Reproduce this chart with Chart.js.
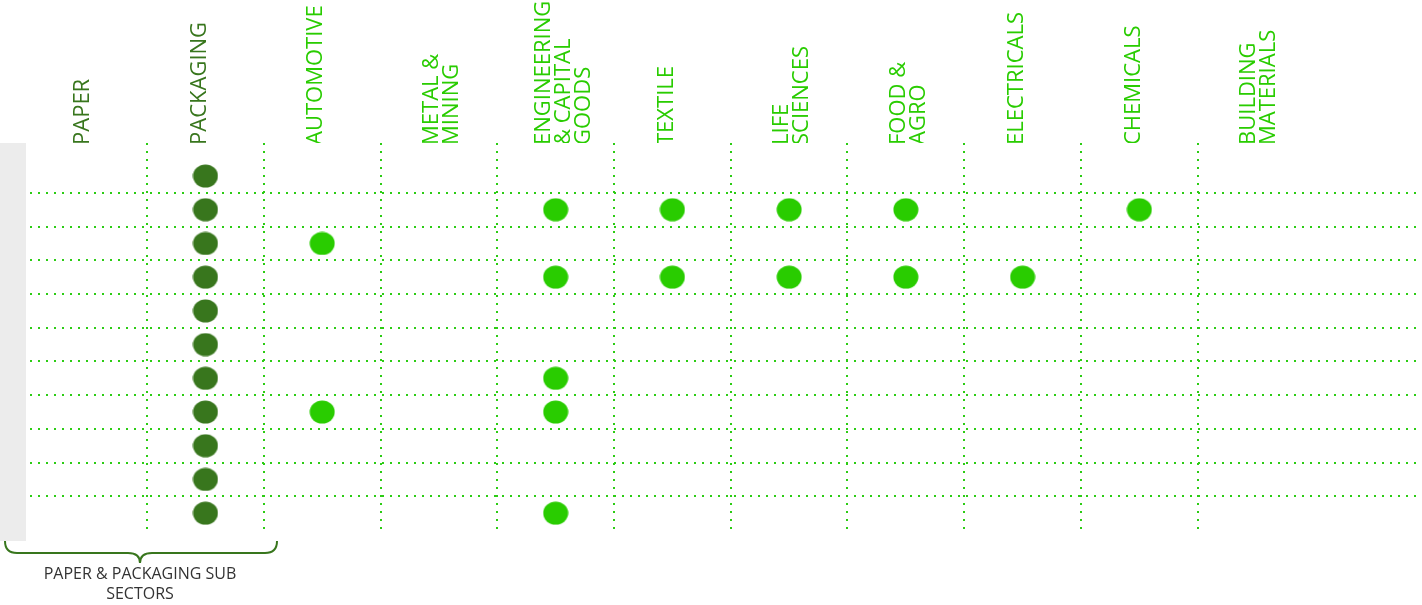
<!DOCTYPE html>
<html>
<head>
<meta charset="utf-8">
<script src="https://cdn.jsdelivr.net/npm/chart.js@4.4.1/dist/chart.umd.min.js"></script>
<style>
	html, body { margin: 0; padding: 0; background: #ffffff; }
	#wrap { position: relative; width: 1422px; height: 605px; overflow: hidden; }
	#side_bar { position: absolute; left: 0; top: 143px; width: 26px; height: 398px; background: #ececec; }
	#chart { position: absolute; left: 0; top: 0; }
	#brace { position: absolute; left: 0; top: 0; }
	#brace_label {
		position: absolute; left: 10px; top: 563px; width: 260px;
		text-align: center; font-family: "Open Sans", sans-serif; font-size: 16px;
		line-height: 20px; color: #333333;
	}
</style>
</head>
<body>
<div id="wrap">
	<div id="side_bar"></div>
	<canvas id="chart" width="1422" height="605"></canvas>
	<svg id="brace" width="1422" height="605">
		<path d="M5,541 Q5,553 17,553 L128,553 Q140,553 140,563 Q140,553 152,553 L265,553 Q277,553 277,541"
			fill="none" stroke="#38761d" stroke-width="2" />
	</svg>
	<div id="brace_label">PAPER &amp; PACKAGING SUB<br>SECTORS</div>
</div>
<script>
// ---- data ----
const sector_labels = [
	["PAPER"],
	["PACKAGING"],
	["AUTOMOTIVE"],
	["METAL &", "MINING"],
	["ENGINEERING", "& CAPITAL", "GOODS"],
	["TEXTILE"],
	["LIFE", "SCIENCES"],
	["FOOD &", "AGRO"],
	["ELECTRICALS"],
	["CHEMICALS"],
	["BUILDING", "MATERIALS"],
];
// rows (0 = top) where each sector has a dot
const paper_rows = [];
const packaging_rows = [0, 1, 2, 3, 4, 5, 6, 7, 8, 9, 10];
const automotive_rows = [2, 7];
const metal_rows = [];
const engineering_rows = [1, 3, 6, 7, 10];
const textile_rows = [1, 3];
const life_sciences_rows = [1, 3];
const food_agro_rows = [1, 3];
const electricals_rows = [3];
const chemicals_rows = [1];
const building_rows = [];
const row_boundaries = [0.5, 1.5, 2.5, 3.5, 4.5, 5.5, 6.5, 7.5, 8.5, 9.5];
const column_boundaries = [0.5, 1.5, 2.5, 3.5, 4.5, 5.5, 6.5, 7.5, 8.5, 9.5];

const dark_green = "#38761d";
const bright_green = "#29cc00";
const grid_green = "#2ccc14";

// chart.js puts stacked rotated lines left of the tick, nudge label ticks back
const label_shift = { 1: 0.12, 2: 0.28, 3: 0.41 };

const all_rows = [
	paper_rows, packaging_rows, automotive_rows, metal_rows, engineering_rows,
	textile_rows, life_sciences_rows, food_agro_rows, electricals_rows,
	chemicals_rows, building_rows,
];

// slightly oval dots
function make_dot(color) {
	let c = document.createElement("canvas");
	c.width = 26;
	c.height = 24;
	let g = c.getContext("2d");
	g.fillStyle = color;
	g.beginPath();
	g.ellipse(13, 12, 12.5, 11.5, 0, 0, Math.PI * 2);
	g.fill();
	return c;
}
const dark_dot = make_dot(dark_green);
const bright_dot = make_dot(bright_green);

let datasets = [];
for (let i = 0; i < all_rows.length; i++) {
	datasets.push({
		label: sector_labels[i].join(" "),
		data: all_rows[i].map((r) => ({ x: i, y: r })),
		pointStyle: i < 2 ? dark_dot : bright_dot,
		pointRadius: 12,
		xAxisID: "x",
		yAxisID: "y",
	});
}

const ctx = document.getElementById("chart").getContext("2d");
new Chart(ctx, {
	type: "scatter",
	data: { datasets: datasets },
	options: {
		responsive: false,
		animation: false,
		devicePixelRatio: 1,
		layout: { autoPadding: false, padding: { left: 30, right: 6, top: 0, bottom: 75 } },
		plugins: { legend: { display: false }, tooltip: { enabled: false } },
		scales: {
			x: {
				type: "linear",
				position: "top",
				min: -0.503,
				max: 11.37,
				afterBuildTicks: (scale) => {
					scale.ticks = sector_labels.map((s, i) => ({ value: i + label_shift[s.length] }));
				},
				afterFit: (scale) => {
					scale.height = 143;
					scale.paddingLeft = 0;
					scale.paddingRight = 0;
				},
				grid: { display: false, drawTicks: false },
				border: { display: false },
				ticks: {
					autoSkip: false,
					minRotation: 90,
					maxRotation: 90,
					padding: -2,
					font: { family: "Open Sans", size: 22, lineHeight: 20 / 22 },
					color: (c) => (c.index < 2 ? dark_green : bright_green),
					callback: (value, index) => sector_labels[index],
				},
			},
			xg: {
				type: "linear",
				position: "bottom",
				min: -0.503,
				max: 11.37,
				afterBuildTicks: (scale) => {
					scale.ticks = column_boundaries.map((v) => ({ value: v }));
				},
				afterFit: (scale) => {
					scale.height = 0;
					scale.paddingLeft = 0;
					scale.paddingRight = 0;
				},
				grid: { display: true, drawTicks: false, color: grid_green, lineWidth: 2 },
				border: { display: false, dash: [2, 6] },
				ticks: { display: false },
			},
			y: {
				type: "linear",
				reverse: true,
				min: -0.98,
				max: 10.5,
				afterBuildTicks: (scale) => {
					scale.ticks = row_boundaries.map((v) => ({ value: v }));
				},
				afterFit: (scale) => {
					scale.width = 0;
				},
				grid: { display: true, drawTicks: false, color: grid_green, lineWidth: 2 },
				border: { display: false, dash: [2, 6] },
				ticks: { display: false },
			},
		},
	},
});
</script>
</body>
</html>
